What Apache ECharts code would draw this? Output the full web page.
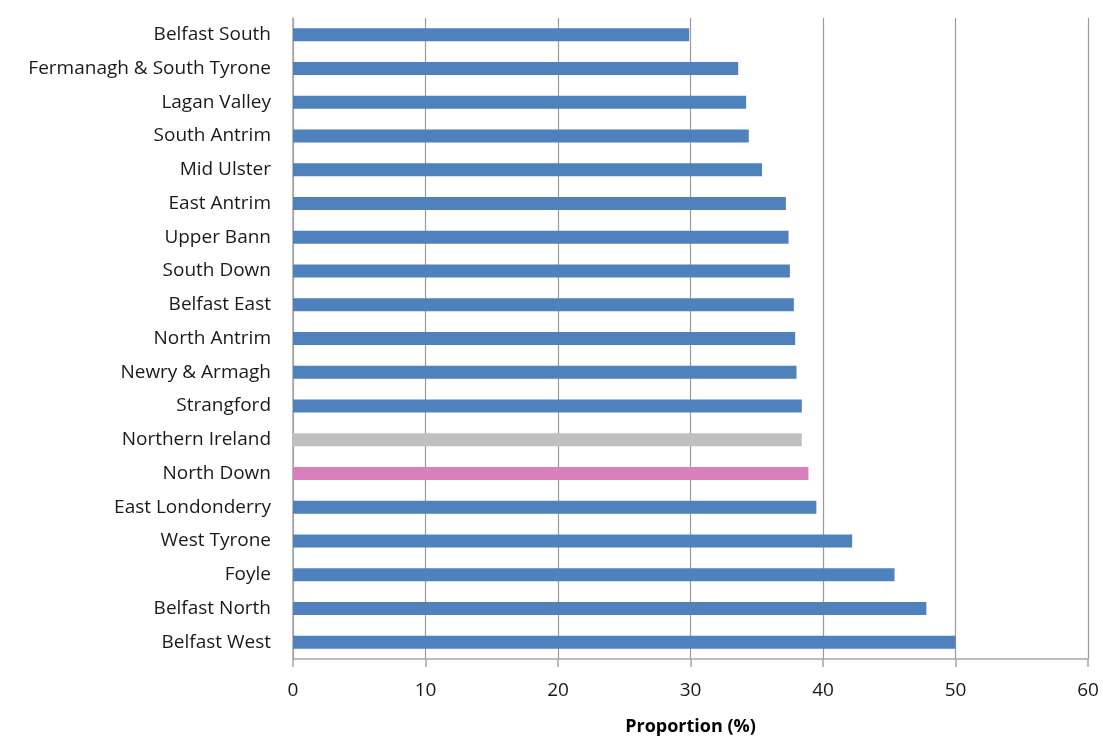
<!DOCTYPE html>
<html>
<head>
<meta charset="utf-8">
<script src="https://cdn.jsdelivr.net/npm/echarts@6/dist/echarts.min.js"></script>
<style>
  html, body { margin: 0; padding: 0; background: #fff; }
  #chart { width: 1103px; height: 736px; }
</style>
</head>
<body>
<div id="chart"></div>
<script>
// top to bottom as drawn
var areas = [
  "Belfast South", "Fermanagh & South Tyrone", "Lagan Valley", "South Antrim",
  "Mid Ulster", "East Antrim", "Upper Bann", "South Down", "Belfast East",
  "North Antrim", "Newry & Armagh", "Strangford", "Northern Ireland",
  "North Down", "East Londonderry", "West Tyrone", "Foyle", "Belfast North",
  "Belfast West"
]
var proportion = [
  29.9, 33.6, 34.2, 34.4, 35.4, 37.2, 37.4, 37.5, 37.8,
  37.9, 38.0, 38.4, 38.4, 38.9, 39.5, 42.2, 45.4, 47.8, 50.0
]
var xTicks = [0, 10, 20, 30, 40, 50, 60]

var blue = "#4F81BD"
var special = {
  "Northern Ireland": "#C0C0C0",
  "North Down": "#DA7FBD"
}

var chart = echarts.init(document.getElementById("chart"))

var data = proportion.map(function (v, i) {
  return {
    value: v,
    itemStyle: { color: special[areas[i]] || blue }
  }
})

var option = {
  animation: false,
  grid: { left: 293, right: 15, top: 18, bottom: 77, containLabel: false, outerBoundsMode: "none" },
  xAxis: {
    type: "value",
    min: xTicks[0],
    max: xTicks[xTicks.length - 1],
    interval: 10,
    name: "Proportion (%)",
    nameLocation: "middle",
    nameGap: 59,
    nameTextStyle: { fontFamily: "Open Sans", fontSize: 18, fontWeight: "bold", color: "#000" },
    axisLine: { show: true, lineStyle: { color: "#A6A6A6", width: 1.5 } },
    axisTick: { show: true, length: 8, lineStyle: { color: "#A6A6A6", width: 1.5 } },
    axisLabel: { fontFamily: "Open Sans", fontSize: 19, color: "#1a1a1a", margin: 22 },
    splitLine: { show: true, lineStyle: { color: "#9A9A9A", width: 1.2 } }
  },
  yAxis: {
    type: "category",
    data: areas,
    inverse: true,
    axisLine: { show: true, lineStyle: { color: "#A6A6A6", width: 1.5 } },
    axisTick: { show: false },
    axisLabel: { fontFamily: "Open Sans", fontSize: 19, color: "#1a1a1a", margin: 22 }
  },
  series: [
    {
      type: "bar",
      data: data,
      barWidth: 13
    }
  ]
}

chart.setOption(option)
</script>
</body>
</html>
